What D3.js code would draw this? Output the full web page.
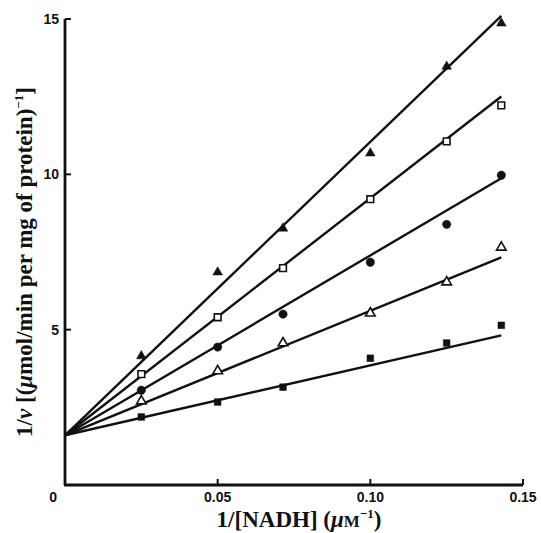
<!DOCTYPE html>
<html lang="en">
<head>
<meta charset="UTF-8">
<title>1/v vs 1/[NADH]</title>
<script src="https://d3js.org/d3.v7.min.js"></script>
<style>
  body { margin: 0; background: #fff; }
  svg { display: block; }
  .tick-label { font-family: "Liberation Sans", Arial, sans-serif; font-size: 14px; font-weight: bold; fill: #111; }
  .axis-title { font-family: "Liberation Serif", "Times New Roman", serif; font-size: 23px; font-weight: bold; fill: #111; }
</style>
</head>
<body>
<svg width="541" height="533"></svg>
<script>
// x values (1/[NADH], µM^-1)
const xValues = [0.025, 0.05, 0.0714, 0.1, 0.125, 0.1429];

// measured 1/v for each series
const filledTriangle = [4.15, 6.85, 8.26, 10.68, 13.47, 14.86];
const openSquare     = [3.57, 5.40, 6.98, 9.20, 11.06, 12.22];
const filledCircle   = [3.05, 4.44, 5.50, 7.17, 8.39, 9.97];
const openTriangle   = [2.70, 3.67, 4.57, 5.53, 6.53, 7.65];
const filledSquare   = [2.19, 2.67, 3.15, 4.08, 4.57, 5.14];

// fitted lines: common intercept, one slope per series
const intercept = 1.6;
const slopes = [94.5, 76.3, 57.9, 40.1, 22.5];
const lineEnd = 0.1429;

const xTicks = [0.05, 0.10, 0.15];
const yTicks = [5, 10, 15];

const series = [
  { values: filledTriangle, shape: "triangle", filled: true },
  { values: openSquare, shape: "square", filled: false },
  { values: filledCircle, shape: "circle", filled: true },
  { values: openTriangle, shape: "triangle", filled: false },
  { values: filledSquare, shape: "square", filled: true }
];

const svg = d3.select("svg");
const margin = { left: 65, top: 19, right: 18, bottom: 48 };
const width = 541, height = 533;

const x = d3.scaleLinear().domain([0, 0.15]).range([margin.left, width - margin.right]);
const y = d3.scaleLinear().domain([0, 15]).range([height - margin.bottom, margin.top]);

// axes
const axisColor = "#111";
svg.append("line")
  .attr("x1", x(0) - 1).attr("x2", x(0.15))
  .attr("y1", y(0)).attr("y2", y(0))
  .attr("stroke", axisColor).attr("stroke-width", 2.8);
svg.append("line")
  .attr("x1", x(0)).attr("x2", x(0))
  .attr("y1", y(0)).attr("y2", y(15))
  .attr("stroke", axisColor).attr("stroke-width", 2.8);

// ticks point inward
svg.selectAll(".xtick").data(xTicks).enter().append("line")
  .attr("x1", d => x(d)).attr("x2", d => x(d))
  .attr("y1", y(0)).attr("y2", y(0) - 6)
  .attr("stroke", axisColor).attr("stroke-width", 2);
svg.selectAll(".ytick").data(yTicks).enter().append("line")
  .attr("x1", x(0)).attr("x2", x(0) + 6)
  .attr("y1", d => y(d)).attr("y2", d => y(d))
  .attr("stroke", axisColor).attr("stroke-width", 2);

svg.selectAll(".xlab").data(xTicks).enter().append("text")
  .attr("class", "tick-label")
  .attr("x", d => x(d)).attr("y", y(0) + 17)
  .attr("text-anchor", "middle")
  .text(d => d3.format(".2f")(d));
svg.selectAll(".ylab").data(yTicks).enter().append("text")
  .attr("class", "tick-label")
  .attr("x", x(0) - 6).attr("y", d => y(d) + 5)
  .attr("text-anchor", "end")
  .text(d => d);
svg.append("text")
  .attr("class", "tick-label")
  .attr("x", x(0) - 8).attr("y", y(0) + 17)
  .attr("text-anchor", "end")
  .text("0");

// axis titles
const xt = svg.append("text")
  .attr("class", "axis-title")
  .attr("x", 299).attr("y", 527)
  .attr("text-anchor", "middle");
xt.append("tspan").text("1/[NADH] (");
xt.append("tspan").attr("font-style", "italic").text("\u03bc");
xt.append("tspan").attr("font-size", "17px").text("M");
xt.append("tspan").attr("font-size", "13px").attr("dy", -9).text("\u22121");
xt.append("tspan").attr("dy", 9).text(")");

const yt = svg.append("text")
  .attr("class", "axis-title")
  .attr("transform", "translate(32,262) rotate(-90)")
  .attr("text-anchor", "middle");
yt.append("tspan").text("1/");
yt.append("tspan").attr("font-style", "italic").text("v");
yt.append("tspan").text(" [(");
yt.append("tspan").attr("font-style", "italic").text("\u03bc");
yt.append("tspan").text("mol/min per mg of protein)");
yt.append("tspan").attr("font-size", "13px").attr("dy", -9).text("\u22121");
yt.append("tspan").attr("dy", 9).text("]");

// fitted lines
svg.selectAll(".fit").data(slopes).enter().append("line")
  .attr("x1", x(0)).attr("y1", y(intercept))
  .attr("x2", x(lineEnd)).attr("y2", d => y(intercept + d * lineEnd))
  .attr("stroke", "#111").attr("stroke-width", 2.4);

// markers
const symbolType = { triangle: d3.symbolTriangle, square: d3.symbolSquare, circle: d3.symbolCircle };
series.forEach(s => {
  const size = s.shape === "circle" ? 55 : (s.shape === "triangle" ? 40 : 45);
  const sym = d3.symbol().type(symbolType[s.shape]).size(size);
  svg.append("g").selectAll("path").data(s.values).enter().append("path")
    .attr("d", sym)
    .attr("transform", (d, i) => "translate(" + x(xValues[i]) + "," + y(d) + ")")
    .attr("fill", s.filled ? "#111" : "#fff")
    .attr("stroke", "#111")
    .attr("stroke-width", s.filled ? 0.5 : 1.6);
});
</script>
</body>
</html>
